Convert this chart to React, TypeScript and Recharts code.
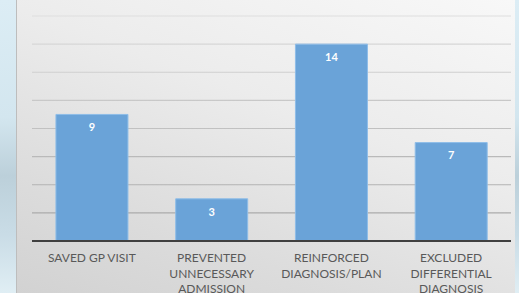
import { BarChart, Bar, XAxis, YAxis, CartesianGrid, LabelList } from 'recharts';

const categories = [
  'SAVED GP VISIT',
  'PREVENTED\nUNNECESSARY\nADMISSION',
  'REINFORCED\nDIAGNOSIS/PLAN',
  'EXCLUDED\nDIFFERENTIAL\nDIAGNOSIS',
];
const counts = [9, 3, 14, 7];
const yTicks = [0, 2, 4, 6, 8, 10, 12, 14, 16];

const data = categories.map((name, i) => ({ name, value: counts[i] }));

// category labels can span several lines
function CategoryTick({ x, y, payload }: any) {
  const lines = String(payload.value).split('\n');
  return (
    <text x={x} y={y} textAnchor="middle" fill="#595959" fontSize={12} fontFamily="Lato, 'Open Sans', sans-serif">
      {lines.map((line, i) => (
        <tspan key={i} x={x} dy={i === 0 ? 13 : 15.5}>{line}</tspan>
      ))}
    </text>
  );
}

export default function App() {
  return (
    <div
      style={{
        position: 'absolute',
        left: 0,
        top: 0,
        width: 519,
        height: 293,
        overflow: 'hidden',
        background: 'linear-gradient(180deg, #dcedf5 0%, #d3e6ef 40%, #bcd0da 60%, #c9dce6 80%, #e0eef4 100%)',
      }}
    >
      <svg width={0} height={0} style={{ position: 'absolute' }}>
        <defs>
          <linearGradient id="gridGrad" gradientUnits="userSpaceOnUse" x1={0} y1={0} x2={0} y2={241}>
            <stop offset="0%" stopColor="#e2e2e2" />
            <stop offset="100%" stopColor="#a4a4a4" />
          </linearGradient>
        </defs>
      </svg>
      <div
        style={{
          position: 'absolute',
          left: 16,
          top: 0,
          width: 498,
          height: 293,
          borderLeft: '1px solid #bdbdbd',
          background: 'linear-gradient(200deg, #f8f8f8 0%, #ececec 40%, #dcdcdc 75%, #d2d2d2 100%)',
        }}
      />
      <div style={{ position: 'absolute', left: 0, top: 0 }}>
        <BarChart
          width={519}
          height={293}
          data={data}
          margin={{ top: 16, right: 8, bottom: 0, left: 32 }}
          barCategoryGap="20%"
        >
          <CartesianGrid vertical={false} stroke="url(#gridGrad)" strokeWidth={1.2} />
          <YAxis hide domain={[0, 16]} ticks={yTicks} />
          <XAxis
            dataKey="name"
            height={52}
            interval={0}
            tickLine={false}
            axisLine={{ stroke: '#404040', strokeWidth: 1.8 }}
            tick={<CategoryTick />}
          />
          <Bar dataKey="value" fill="#6aa3d8" stroke="#8ebde8" strokeWidth={1} isAnimationActive={false}>
            <LabelList
              dataKey="value"
              position="insideTop"
              offset={9}
              fill="#ffffff"
              fontSize={11}
              fontWeight="bold"
              fontFamily="Lato, 'Open Sans', sans-serif"
            />
          </Bar>
        </BarChart>
      </div>
    </div>
  );
}
